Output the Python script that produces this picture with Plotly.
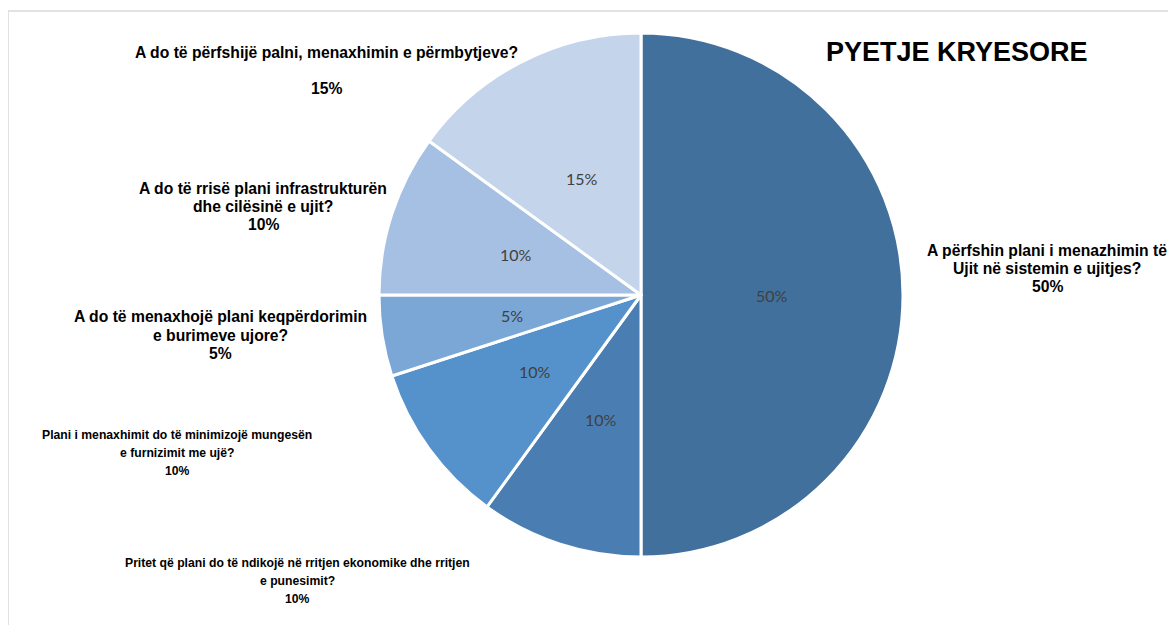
import math
import plotly.graph_objects as go

W, H = 1176, 625
OFF = 8  # page body margin in the browser

categories = [
    "A përfshin plani i menazhimin të<br>Ujit në sistemin e ujitjes?",
    "Pritet që plani do të ndikojë në rritjen ekonomike dhe rritjen<br>e punesimit?",
    "Plani i menaxhimit do të minimizojë mungesën<br>e furnizimit me ujë?",
    "A do të menaxhojë plani keqpërdorimin<br>e burimeve ujore?",
    "A do të rrisë plani infrastrukturën<br>dhe cilësinë e ujit?",
    "A do të përfshijë palni, menaxhimin e përmbytjeve?<br>",
]
values = [50, 10, 10, 5, 10, 15]
colors = ["#41709C", "#4A7EB3", "#5592CB", "#7BA7D7", "#A5C0E2", "#C3D4EB"]
title_text = "PYETJE KRYESORE"

# layout of the outside category labels (first-line centre, pixels) and their fonts
label_pos = [(1047, 250), (297, 563), (177, 435), (220, 317), (263, 188), (326, 52)]
REG = dict(family="Liberation Sans", size=15.7)
NARROW = dict(family="Liberation Sans", size=12.2)
label_fonts = [REG, NARROW, NARROW, REG, REG, REG]
LINE = 18.2

cx, cy, r = 641, 295, 262


def fx(x):
    return (x - OFF) / W


def fy(y):
    return 1 - (y - OFF) / H


fig = go.Figure()
fig.add_trace(go.Pie(
    labels=categories,
    values=values,
    sort=False,
    direction="clockwise",
    rotation=0,
    marker=dict(colors=colors, line=dict(color="white", width=3)),
    textinfo="none",
    showlegend=False,
    hoverinfo="label+percent",
    domain=dict(x=[fx(cx - r), fx(cx + r)], y=[fy(cy + r), fy(cy - r)]),
))

annotations = []
# inside percentage labels, placed on each slice bisector at half radius
total = sum(values)
cum = 0
for v in values:
    mid = (cum + v / 2) / total * 2 * math.pi
    cum += v
    x = cx + 0.5 * r * math.sin(mid)
    y = cy - 0.5 * r * math.cos(mid)
    annotations.append(dict(
        x=fx(x), y=fy(y), xref="paper", yref="paper",
        text=f"{v}%", showarrow=False, xanchor="center", yanchor="middle",
        font=dict(family="Lato", size=16, color="#404040"),
    ))

# outside category labels, one annotation per line
for cat, v, (px, py), fnt in zip(categories, values, label_pos, label_fonts):
    lines = cat.split("<br>") + [f"{v}%"]
    for i, ln in enumerate(lines):
        if not ln:
            continue
        annotations.append(dict(
            x=fx(px), y=fy(py + i * LINE), xref="paper", yref="paper",
            text=f"<b>{ln}</b>", showarrow=False,
            xanchor="center", yanchor="middle", align="center",
            font=dict(color="#000000", **fnt),
        ))

annotations.append(dict(
    x=fx(957), y=fy(52), xref="paper", yref="paper",
    text=f"<b>{title_text}</b>", showarrow=False,
    xanchor="center", yanchor="middle",
    font=dict(family="Liberation Sans", size=27, color="#000000"),
))

fig.update_layout(
    width=W, height=H,
    margin=dict(l=0, r=0, t=0, b=0),
    paper_bgcolor="white",
    plot_bgcolor="white",
    annotations=annotations,
    shapes=[dict(type="rect", xref="paper", yref="paper",
                 x0=fx(8), x1=1.02, y0=-0.02, y1=fy(11),
                 line=dict(color="#D9D9D9", width=1.5), layer="below")],
)

fig.write_html("out.html")
